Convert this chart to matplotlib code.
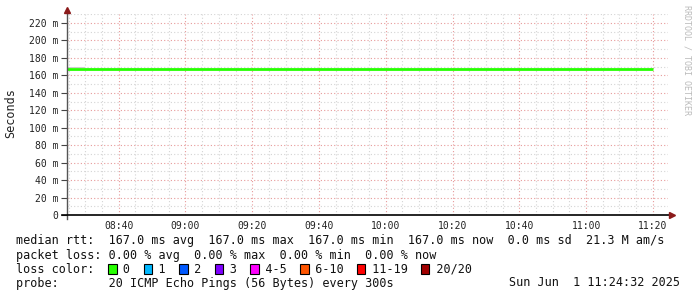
import matplotlib
matplotlib.use("Agg")
import matplotlib.pyplot as plt
import matplotlib.dates as mdates
from matplotlib.patches import Rectangle
import pandas as pd

# dati (campioni ogni 300 s)
times = pd.date_range("2025-06-01 08:20", "2025-06-01 11:20", freq="5min")
rtt_ms = [167.0, 167.0, 167.0, 167.0, 167.0, 167.0, 167.0, 167.0, 167.0, 167.0,
          167.0, 167.0, 167.0, 167.0, 167.0, 167.0, 167.0, 167.0, 167.0, 167.0,
          167.0, 167.0, 167.0, 167.0, 167.0, 167.0, 167.0, 167.0, 167.0, 167.0,
          167.0, 167.0, 167.0, 167.0, 167.0, 167.0, 167.0]
loss_pct = [0.0] * len(rtt_ms)
# "fumo" visibile solo nel primo intervallo
smoke_times = pd.to_datetime(["2025-06-01 08:24:32", "2025-06-01 08:30:00"])
smoke_lo = [168.0, 168.0]
smoke_hi = [169.5, 169.5]

t_start = pd.Timestamp("2025-06-01 08:24:32")
t_end = pd.Timestamp("2025-06-01 11:24:32")

loss_labels = ["0", "1", "2", "3", "4-5", "6-10", "11-19", "20/20"]
loss_colors = ["#26ff00", "#00b8ff", "#0059ff", "#7e00ff", "#ff00ff",
               "#ff5500", "#ff0000", "#a10000"]

W, H = 697, 297
mono = "DejaVu Sans Mono"

def fx(x):
    return x / W

def fy(y):
    return 1 - y / H

fig = plt.figure(figsize=(W / 100, H / 100), dpi=100)
fig.patch.set_facecolor("white")

# area del grafico in pixel
left, right, top, bottom = 67, 668, 14.3, 215
ax = fig.add_axes([fx(left), fy(bottom), (right - left) / W, (bottom - top) / H])
ax.set_xlim(t_start, t_end)
ax.set_ylim(0, 230)

# griglia
ax.xaxis.set_major_locator(mdates.MinuteLocator(byminute=[0, 20, 40]))
ax.xaxis.set_minor_locator(mdates.MinuteLocator(byminute=range(0, 60, 5)))
ax.xaxis.set_major_formatter(mdates.DateFormatter("%H:%M"))
ax.set_yticks(range(0, 221, 20))
ax.set_yticks(range(0, 231, 10), minor=True)
ax.set_yticklabels(["0"] + ["%d m" % v for v in range(20, 221, 20)])

ax.grid(which="minor", color="#d4d4d4", linestyle=(0, (1, 2)), linewidth=0.8)
ax.grid(which="major", color="#e79a9a", linestyle=(0, (1, 2)), linewidth=0.8)
ax.set_axisbelow(True)

for s in ax.spines.values():
    s.set_visible(False)

ax.tick_params(axis="y", which="major", length=4, width=0.8, color="#444444",
               labelsize=7, pad=2)
ax.tick_params(axis="x", which="major", length=0, labelsize=7, pad=4.5)
ax.tick_params(which="minor", length=0)
for lab in ax.get_xticklabels() + ax.get_yticklabels():
    lab.set_fontfamily(mono)
    lab.set_color("#222222")

# fumo e linea mediana
ax.fill_between(smoke_times, smoke_lo, smoke_hi, color="#cccccc", linewidth=0)
ax.plot(times, rtt_ms, color=loss_colors[0], linewidth=2.0, drawstyle="steps-pre",
        solid_capstyle="butt")

# assi con frecce
ax.plot([0, 0], [-0.02, 1.02], transform=ax.transAxes, color="#555555",
        linewidth=1, clip_on=False)
ax.plot([-0.008, 1.004], [0, 0], transform=ax.transAxes, color="black",
        linewidth=1.2, clip_on=False)
ax.plot([0], [1.02], transform=ax.transAxes, marker="^", markersize=4,
        color="#8b1a1a", clip_on=False)
ax.plot([1.006], [0], transform=ax.transAxes, marker=">", markersize=4,
        color="#8b1a1a", clip_on=False)

fig.text(fx(11), fy(113), "Seconds", rotation=90, ha="center", va="center",
         fontsize=8.5, family=mono, color="#222222")
fig.text(fx(687), fy(5), "RRDTOOL / TOBI OETIKER", rotation=270, ha="center",
         va="top", fontsize=6, family=mono, color="#bbbbbb")

# legenda
cw = 7.1
x0 = 16
avg = sum(rtt_ms) / len(rtt_ms)
line1 = "median rtt:  %.1f ms avg  %.1f ms max  %.1f ms min  %.1f ms now  0.0 ms sd  21.3 M am/s" % (
    avg, max(rtt_ms), min(rtt_ms), rtt_ms[-1])
lavg = sum(loss_pct) / len(loss_pct)
line2 = "packet loss: %.2f %% avg  %.2f %% max  %.2f %% min  %.2f %% now" % (
    lavg, max(loss_pct), min(loss_pct), loss_pct[-1])
fig.text(fx(x0), fy(240.5), line1, ha="left", va="center", fontsize=8.5,
         family=mono, color="#111111")
fig.text(fx(x0), fy(255.3), line2, ha="left", va="center", fontsize=8.5,
         family=mono, color="#111111")

line3 = "loss color:  "
col = 13
for lbl, c in zip(loss_labels, loss_colors):
    xs = x0 + col * cw
    fig.add_artist(Rectangle((fx(xs), fy(273.5)), 8.5 / W, 9.5 / H,
                             transform=fig.transFigure, facecolor=c,
                             edgecolor="black", linewidth=0.8))
    line3 += "  " + lbl + "  "
    col += 2 + len(lbl) + 2
fig.text(fx(x0), fy(269), line3, ha="left", va="center", fontsize=8.5,
         family=mono, color="#111111")

fig.text(fx(x0), fy(283), "probe:       20 ICMP Echo Pings (56 Bytes) every 300s",
         ha="left", va="center", fontsize=8.5, family=mono, color="#111111")
fig.text(fx(680), fy(283), t_end.strftime("%a %b ") + "%2d" % t_end.day
         + t_end.strftime(" %H:%M:%S %Y"),
         ha="right", va="center", fontsize=8.5, family=mono, color="#111111")

fig.savefig("out.png", dpi=100)
